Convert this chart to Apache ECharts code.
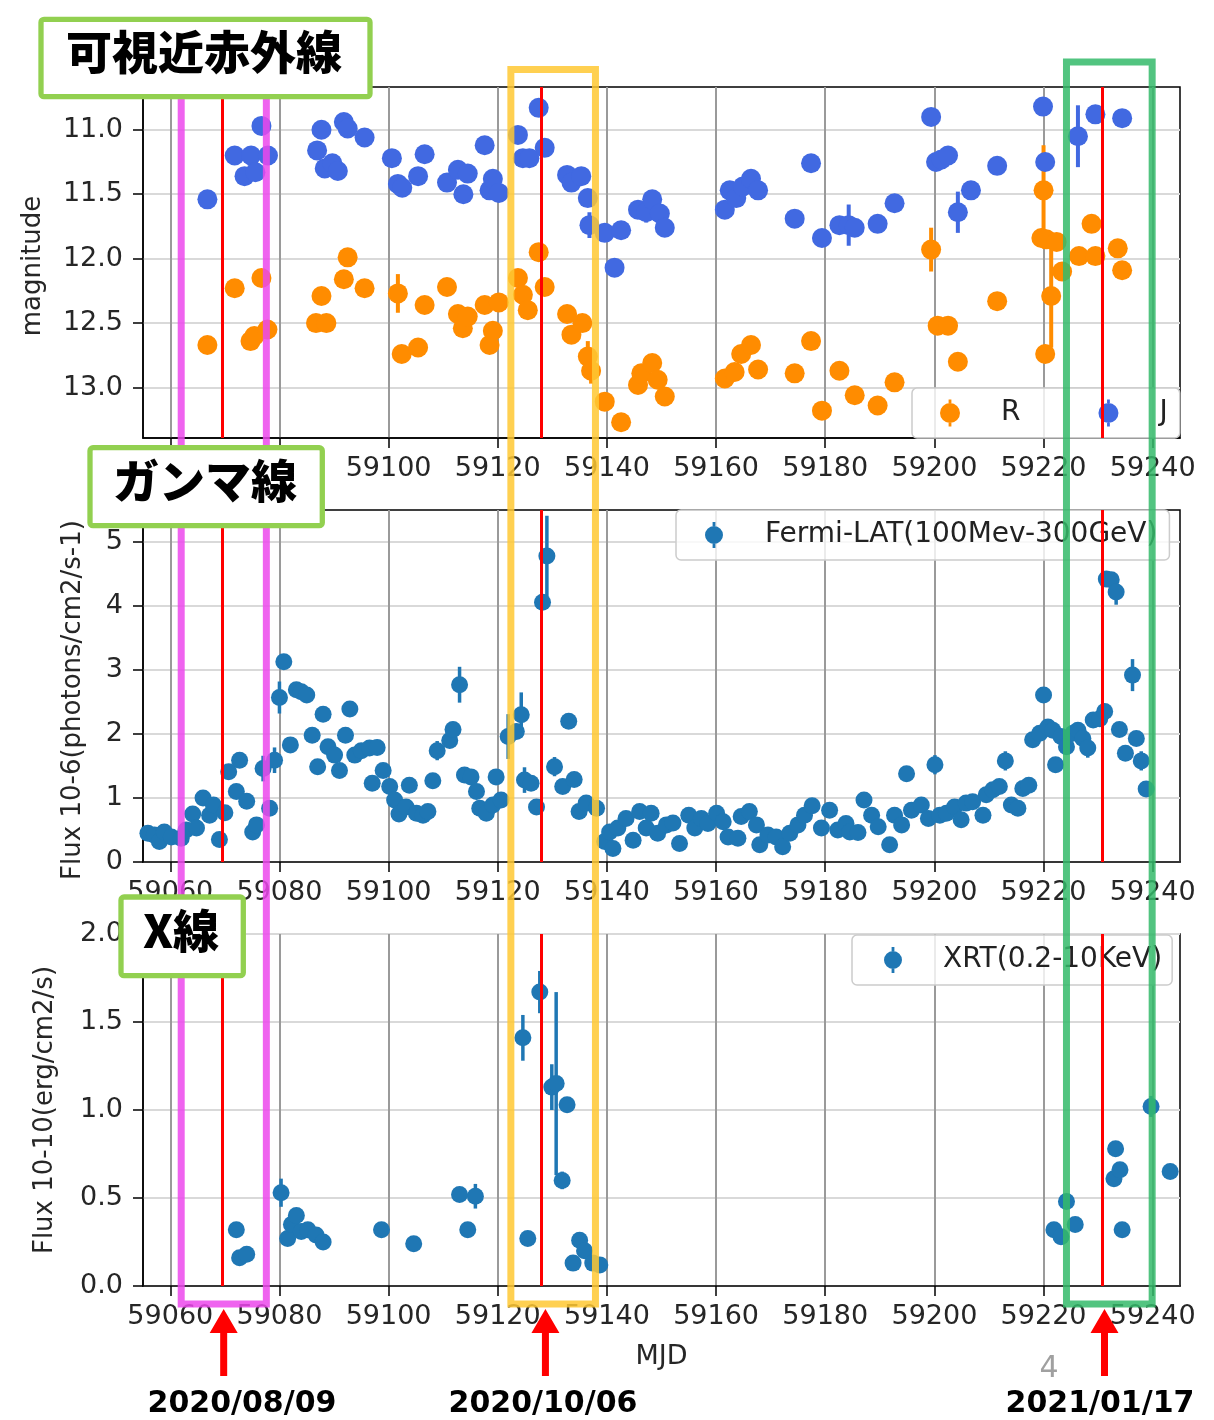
<!DOCTYPE html>
<html>
<head>
<meta charset="utf-8">
<script src="https://cdn.jsdelivr.net/npm/echarts@6/dist/echarts.min.js"></script>
<style>
html,body{margin:0;padding:0;background:#fff;}
#main{width:1214px;height:1420px;}
</style>
</head>
<body>
<div id="main"></div>
<script>
// ---- axis ticks ----
const mjdTicks = [59060, 59080, 59100, 59120, 59140, 59160, 59180, 59200, 59220, 59240];
const magTicks = [11.0, 11.5, 12.0, 12.5, 13.0];
const latTicks = [0, 1, 2, 3, 4, 5];
const xrtTicks = [0, 0.5, 1.0, 1.5, 2.0];

// ---- optical / NIR photometry (magnitude) ----
const rMjd = [59066.8,59071.8,59074.7,59075.4,59076.7,59077.8,59086.7,59087.7,59088.6,59091.8,
  59092.5,59095.6,59101.7,59102.4,59105.4,59106.6,59110.7,59112.7,59113.6,59114.5,
  59117.6,59118.5,59119.1,59120.2,59123.7,59124.6,59125.5,59127.5,59128.6,59132.7,
  59133.5,59135.5,59136.5,59137.1,59139.6,59142.6,59145.7,59146.3,59148.3,59149.3,
  59150.6,59161.6,59163.4,59164.6,59166.4,59167.7,59174.4,59177.4,59179.4,59182.6,
  59185.4,59189.6,59192.7,59199.4,59200.6,59202.5,59204.3,59211.5,59219.6,59220.0,
  59220.3,59220.5,59221.4,59222.4,59223.4,59226.5,59228.8,59229.5,59233.6,59234.4];
const rMag = [12.67,12.23,12.64,12.60,12.15,12.55,12.50,12.29,12.50,12.16,
  11.99,12.23,12.27,12.74,12.69,12.36,12.22,12.43,12.54,12.45,
  12.36,12.67,12.56,12.34,12.15,12.28,12.40,11.95,12.22,12.43,
  12.59,12.50,12.76,12.87,13.11,13.27,12.98,12.89,12.81,12.94,
  13.07,12.93,12.88,12.74,12.67,12.86,12.89,12.64,13.18,12.87,
  13.06,13.14,12.96,11.93,12.52,12.52,12.80,12.33,11.84,11.47,
  12.74,11.85,12.29,11.87,12.10,11.98,11.73,11.98,11.92,12.09];
const rErr = [0.03,0.03,0.03,0.03,0.03,0.03,0.03,0.03,0.03,0.03,
  0.06,0.03,0.15,0.03,0.03,0.03,0.03,0.03,0.03,0.03,
  0.03,0.03,0.03,0.03,0.03,0.03,0.03,0.03,0.03,0.03,
  0.03,0.03,0.12,0.10,0.03,0.03,0.03,0.03,0.03,0.03,
  0.03,0.03,0.03,0.03,0.03,0.03,0.03,0.03,0.03,0.03,
  0.03,0.03,0.03,0.17,0.03,0.03,0.03,0.07,0.03,0.35,
  0.03,0.03,0.40,0.03,0.03,0.03,0.03,0.03,0.03,0.03];

const jMjd = [59066.8,59071.8,59073.6,59074.8,59075.6,59076.7,59077.9,59086.9,59087.7,59088.3,
  59089.7,59090.7,59091.8,59092.5,59095.6,59100.6,59101.7,59102.5,59105.4,59106.6,
  59110.7,59112.7,59113.7,59114.5,59117.6,59118.5,59119.1,59120.2,59123.7,59124.6,
  59125.8,59127.5,59128.6,59132.7,59133.5,59135.3,59136.5,59136.8,59139.6,59141.4,
  59142.6,59145.7,59147.2,59148.3,59149.7,59150.6,59161.6,59162.5,59163.7,59164.9,
  59166.4,59167.7,59174.4,59177.4,59179.4,59182.6,59184.3,59185.4,59189.6,59192.7,
  59199.4,59200.3,59201.3,59202.5,59204.3,59206.7,59211.5,59219.9,59220.3,59226.3,
  59229.5,59234.4];
const jMag = [11.54,11.20,11.36,11.20,11.33,10.97,11.20,11.16,11.00,11.30,
  11.26,11.32,10.94,10.99,11.06,11.22,11.42,11.45,11.36,11.19,
  11.41,11.31,11.50,11.34,11.12,11.47,11.38,11.49,11.04,11.22,
  11.22,10.83,11.14,11.35,11.41,11.36,11.53,11.74,11.80,12.07,
  11.78,11.62,11.64,11.54,11.65,11.76,11.62,11.47,11.53,11.44,
  11.38,11.47,11.69,11.26,11.84,11.74,11.74,11.76,11.73,11.57,
  10.90,11.25,11.23,11.20,11.64,11.47,11.28,10.82,11.25,11.05,
  10.88,10.91];
const jErr = [0.03,0.03,0.03,0.03,0.03,0.03,0.03,0.03,0.03,0.03,
  0.03,0.03,0.03,0.03,0.03,0.03,0.03,0.03,0.03,0.03,
  0.03,0.03,0.03,0.03,0.03,0.03,0.03,0.03,0.03,0.03,
  0.03,0.03,0.03,0.03,0.03,0.03,0.03,0.10,0.03,0.03,
  0.03,0.03,0.08,0.03,0.03,0.03,0.03,0.03,0.03,0.03,
  0.03,0.03,0.03,0.03,0.03,0.03,0.16,0.03,0.03,0.03,
  0.03,0.03,0.03,0.03,0.16,0.06,0.03,0.03,0.06,0.24,
  0.03,0.03];

// ---- Fermi-LAT gamma-ray flux (1e-6 photons/cm2/s) ----
const latMjd = [59055.9,59057.1,59058.0,59058.9,59060.2,59062.0,59062.9,59064.1,59064.8,59066.0,
  59067.2,59067.9,59069.0,59070.0,59070.7,59072.1,59072.7,59074.0,59075.1,59075.8,
  59077.0,59078.2,59079.1,59080.0,59080.8,59082.0,59083.1,59084.0,59085.0,59086.0,
  59087.0,59088.0,59088.9,59090.1,59091.0,59092.1,59092.9,59093.8,59095.0,59096.5,
  59097.0,59097.9,59099.0,59100.2,59101.1,59101.9,59103.2,59103.8,59105.1,59106.3,
  59107.2,59108.1,59108.9,59111.2,59111.8,59113.0,59113.9,59115.1,59116.1,59116.7,
  59117.9,59119.1,59119.7,59120.6,59121.9,59123.4,59124.3,59124.9,59126.1,59127.1,
  59128.2,59129.0,59130.4,59131.9,59133.0,59134.0,59134.9,59136.2,59138.1,59139.6,
  59140.5,59141.1,59142.0,59143.5,59144.8,59146.0,59147.2,59148.1,59149.3,59150.9,
  59152.1,59153.3,59155.0,59156.1,59157.3,59158.5,59160.1,59161.3,59162.2,59164.0,
  59164.6,59166.1,59167.4,59168.0,59169.5,59171.0,59172.2,59173.5,59175.0,59176.2,
  59177.6,59179.3,59180.8,59182.3,59183.8,59184.5,59186.0,59187.1,59188.5,59189.7,
  59191.8,59192.7,59194.0,59194.9,59195.8,59197.6,59198.9,59200.1,59201.0,59202.2,
  59203.7,59204.9,59205.8,59207.0,59208.9,59209.5,59210.7,59211.9,59213.0,59214.1,
  59215.3,59216.2,59217.3,59218.0,59219.3,59220.0,59220.8,59221.7,59222.2,59223.2,
  59224.2,59225.4,59226.3,59227.2,59228.1,59229.1,59230.3,59231.2,59231.5,59232.4,
  59233.3,59233.9,59235.0,59236.3,59237.0,59237.9,59238.8];
const latFlux = [0.45,0.42,0.32,0.47,0.39,0.37,0.50,0.75,0.53,1.00,
  0.73,0.89,0.35,0.77,1.41,1.10,1.59,0.95,0.47,0.58,
  1.46,0.84,1.59,2.57,3.13,1.83,2.69,2.66,2.61,1.98,
  1.49,2.31,1.80,1.67,1.43,1.98,2.39,1.67,1.74,1.78,
  1.23,1.79,1.43,1.18,0.97,0.75,0.86,1.20,0.76,0.73,
  0.79,1.27,1.74,1.90,2.07,2.77,1.36,1.33,1.10,0.84,
  0.76,0.89,1.33,0.97,1.96,2.04,2.30,1.28,1.23,0.86,
  4.06,4.78,1.49,1.18,2.20,1.29,0.79,0.92,0.84,0.32,
  0.47,0.21,0.53,0.68,0.34,0.79,0.53,0.76,0.45,0.58,
  0.61,0.29,0.73,0.53,0.68,0.60,0.76,0.63,0.39,0.37,
  0.71,0.79,0.58,0.27,0.42,0.39,0.24,0.45,0.58,0.73,
  0.88,0.53,0.81,0.50,0.60,0.47,0.46,0.97,0.73,0.55,
  0.27,0.73,0.58,1.38,0.81,0.89,0.68,1.52,0.73,0.76,
  0.86,0.66,0.92,0.94,0.73,1.05,1.13,1.18,1.58,0.89,
  0.84,1.15,1.20,1.91,2.01,2.61,2.11,2.06,1.52,1.96,
  1.80,2.01,2.06,1.93,1.78,2.22,2.24,2.35,4.42,4.41,
  4.22,2.07,1.70,2.92,1.93,1.58,1.14];
const latErr = [0.05,0.05,0.05,0.05,0.05,0.05,0.05,0.05,0.05,0.05,
  0.05,0.05,0.05,0.05,0.05,0.05,0.05,0.05,0.05,0.05,
  0.20,0.05,0.20,0.25,0.05,0.05,0.10,0.05,0.05,0.05,
  0.05,0.05,0.05,0.05,0.05,0.05,0.05,0.05,0.05,0.05,
  0.05,0.05,0.10,0.05,0.05,0.05,0.05,0.10,0.05,0.05,
  0.05,0.12,0.15,0.05,0.12,0.28,0.05,0.05,0.05,0.05,
  0.05,0.05,0.05,0.10,0.35,0.05,0.35,0.20,0.05,0.10,
  0.05,0.63,0.15,0.05,0.05,0.05,0.05,0.12,0.05,0.05,
  0.05,0.05,0.05,0.05,0.05,0.05,0.05,0.05,0.05,0.05,
  0.05,0.05,0.05,0.05,0.05,0.05,0.05,0.05,0.05,0.10,
  0.05,0.05,0.05,0.05,0.05,0.05,0.05,0.05,0.05,0.05,
  0.05,0.05,0.05,0.05,0.05,0.10,0.05,0.05,0.05,0.05,
  0.05,0.05,0.05,0.05,0.05,0.05,0.05,0.15,0.05,0.05,
  0.05,0.05,0.05,0.05,0.05,0.05,0.05,0.05,0.15,0.05,
  0.05,0.05,0.05,0.05,0.05,0.05,0.05,0.10,0.05,0.05,
  0.05,0.05,0.05,0.05,0.15,0.05,0.05,0.05,0.12,0.05,
  0.20,0.05,0.05,0.25,0.05,0.15,0.05];

// ---- Swift-XRT X-ray flux (1e-10 erg/cm2/s) ----
const xrtMjd = [59072.1,59072.7,59074.0,59080.3,59081.5,59082.2,59083.1,59084.0,59085.2,59086.7,
  59088.0,59098.7,59104.6,59113.0,59114.5,59115.9,59124.6,59125.5,59127.7,59129.9,
  59130.7,59131.8,59132.7,59133.8,59135.0,59135.9,59137.4,59138.7,59221.9,59223.2,
  59224.2,59225.8,59232.9,59233.2,59234.0,59234.4,59239.7,59243.2];
const xrtFlux = [0.32,0.16,0.18,0.53,0.27,0.35,0.40,0.31,0.32,0.29,
  0.25,0.32,0.24,0.52,0.32,0.51,1.41,0.27,1.67,1.13,
  1.15,0.60,1.03,0.13,0.26,0.20,0.13,0.12,0.32,0.28,
  0.48,0.35,0.61,0.78,0.66,0.32,1.02,0.65];
const xrtErr = [0.02,0.02,0.02,0.08,0.02,0.02,0.02,0.02,0.02,0.02,
  0.02,0.02,0.02,0.03,0.04,0.07,0.13,0.02,0.12,0.13,
  0.52,0.05,0.02,0.02,0.02,0.02,0.02,0.02,0.02,0.02,
  0.02,0.02,0.02,0.04,0.02,0.02,0.06,0.02];

// ---- flare epochs and highlighted windows (MJD) ----
const flareMjd = [59069.6, 59128.0, 59230.8];
const flareDates = ['2020/08/09', '2020/10/06', '2021/01/17'];
const windowStart = [59062.0, 59122.4, 59224.2];
const windowEnd = [59077.6, 59137.9, 59239.9];
const windowColors = ['rgba(236,72,236,0.85)', 'rgba(255,200,50,0.85)', 'rgba(52,186,106,0.85)'];
const windowTops = [60, 69.5, 62];
const bandTitles = ['可視近赤外線', 'ガンマ線', 'X線'];

const FONT = 'DejaVu Sans';
const TXT = '#262626';
const zip3 = (a, b, c) => a.map((v, i) => [v, b[i], c[i]]);

function errRender(color, width) {
  return function (params, api) {
    const x = api.value(0), y = api.value(1), e = api.value(2);
    const p1 = api.coord([x, y - e]);
    const p2 = api.coord([x, y + e]);
    return {
      type: 'line',
      shape: {x1: p1[0], y1: p1[1], x2: p2[0], y2: p2[1]},
      style: {stroke: color, lineWidth: width}
    };
  };
}

function icon(d, h) {
  const bw = 2.8, bx = d / 2 - bw / 2, r = d / 2, arm = (h - d) / 2;
  return 'path://M' + bx + ',0h' + bw + 'v' + arm + 'h-' + bw + 'z' +
    'M0,' + (h / 2) + 'a' + r + ',' + r + ' 0 1,0 ' + d + ',0a' + r + ',' + r + ' 0 1,0 -' + d + ',0z' +
    'M' + bx + ',' + (h - arm) + 'h' + bw + 'v' + arm + 'h-' + bw + 'z';
}

const flareLines = {
  silent: true,
  symbol: ['none', 'none'],
  label: {show: false},
  lineStyle: {color: '#ff0000', width: 3, type: 'solid'},
  emphasis: {disabled: true},
  animation: false,
  data: flareMjd.map(v => ({xAxis: v}))
};

function xAxisFor(i) {
  return {
    type: 'value', gridIndex: i, min: 59055, max: 59245, splitNumber: 9,
    axisLine: {show: true, onZero: false, lineStyle: {color: '#000', width: 1.5}},
    axisTick: {show: true, inside: false, length: 10, customValues: mjdTicks,
      lineStyle: {color: '#000', width: 1.5}},
    axisLabel: {show: true, customValues: mjdTicks, margin: 17, color: TXT,
      fontSize: 27, fontFamily: FONT, formatter: v => String(v)},
    splitLine: {show: true, lineStyle: {color: '#9a9a9a', width: 2}},
    name: i === 2 ? 'MJD' : '', nameLocation: 'middle', nameGap: 57,
    nameTextStyle: {color: TXT, fontSize: 27, fontFamily: FONT}
  };
}

function yAxisFor(i, min, max, ticks, split, digits, inverse) {
  return {
    type: 'value', gridIndex: i, min: min, max: max, splitNumber: split, inverse: !!inverse,
    axisLine: {show: true, lineStyle: {color: '#000', width: 1.5}},
    axisTick: {show: true, inside: false, length: 10, customValues: ticks,
      lineStyle: {color: '#000', width: 1.5}},
    axisLabel: {show: true, customValues: ticks, margin: 20, color: TXT,
      fontSize: 27, fontFamily: FONT, formatter: v => v.toFixed(digits)},
    splitLine: {show: true, lineStyle: {color: '#d9d9d9', width: 2}}
  };
}

function legendFor(left, top, names, icons, pad, textPad) {
  return {
    show: true, selectedMode: false, orient: 'horizontal',
    left: left, top: top, padding: pad, itemGap: 78,
    itemWidth: icons[0].w, itemHeight: icons[0].h,
    backgroundColor: 'rgba(255,255,255,0.8)', borderColor: '#cccccc',
    borderWidth: 1.5, borderRadius: 5,
    textStyle: {color: '#222', fontSize: 28, fontFamily: FONT, padding: [0, 0, 0, textPad]},
    data: names.map((n, k) => ({name: n, icon: icon(icons[k].w, icons[k].h)}))
  };
}

const option = {
  animation: false,
  backgroundColor: '#ffffff',
  grid: [
    {left: 143, top: 87, right: 34, height: 351, show: true, borderColor: '#000', borderWidth: 1.5, backgroundColor: 'transparent'},
    {left: 143, top: 510, right: 34, height: 352, show: true, borderColor: '#000', borderWidth: 1.5, backgroundColor: 'transparent'},
    {left: 143, top: 934, right: 34, height: 352, show: true, borderColor: '#000', borderWidth: 1.5, backgroundColor: 'transparent'}
  ],
  xAxis: [xAxisFor(0), xAxisFor(1), xAxisFor(2)],
  yAxis: [
    yAxisFor(0, 10.668, 13.392, magTicks, 5, 1, true),
    yAxisFor(1, 0, 5.5, latTicks, 5, 0, false),
    yAxisFor(2, 0, 2.0, xrtTicks, 4, 1, false)
  ],
  legend: [
    legendFor(912, 388, ['R', 'J'], [{w: 20, h: 27}, {w: 20, h: 27}], [11, 12, 11, 28], 36),
    legendFor(676, 510, ['Fermi-LAT(100Mev-300GeV)'], [{w: 18, h: 26}], [11, 12, 11, 29], 37),
    legendFor(852, 935, ['XRT(0.2-10KeV)'], [{w: 18, h: 26}], [11, 10, 11, 32], 36)
  ],
  series: [
    {type: 'custom', name: 'R error', xAxisIndex: 0, yAxisIndex: 0, clip: true, silent: true,
      renderItem: errRender('#ff8c00', 4), data: zip3(rMjd, rMag, rErr), z: 2},
    {type: 'custom', name: 'J error', xAxisIndex: 0, yAxisIndex: 0, clip: true, silent: true,
      renderItem: errRender('#4169e1', 4), data: zip3(jMjd, jMag, jErr), z: 2},
    {type: 'scatter', name: 'R', xAxisIndex: 0, yAxisIndex: 0, symbol: 'circle', symbolSize: 20,
      itemStyle: {color: '#ff8c00', opacity: 1}, data: rMjd.map((v, i) => [v, rMag[i]]), z: 3},
    {type: 'scatter', name: 'J', xAxisIndex: 0, yAxisIndex: 0, symbol: 'circle', symbolSize: 20,
      itemStyle: {color: '#4169e1', opacity: 1}, data: jMjd.map((v, i) => [v, jMag[i]]), z: 3,
      markLine: flareLines},

    {type: 'custom', name: 'LAT error', xAxisIndex: 1, yAxisIndex: 1, clip: true, silent: true,
      renderItem: errRender('#1f77b4', 3.5), data: zip3(latMjd, latFlux, latErr), z: 2},
    {type: 'scatter', name: 'Fermi-LAT(100Mev-300GeV)', xAxisIndex: 1, yAxisIndex: 1, symbol: 'circle', symbolSize: 17,
      itemStyle: {color: '#1f77b4', opacity: 1}, data: latMjd.map((v, i) => [v, latFlux[i]]), z: 3,
      markLine: flareLines},

    {type: 'custom', name: 'XRT error', xAxisIndex: 2, yAxisIndex: 2, clip: true, silent: true,
      renderItem: errRender('#1f77b4', 3.5), data: zip3(xrtMjd, xrtFlux, xrtErr), z: 2},
    {type: 'scatter', name: 'XRT(0.2-10KeV)', xAxisIndex: 2, yAxisIndex: 2, symbol: 'circle', symbolSize: 17,
      itemStyle: {color: '#1f77b4', opacity: 1}, data: xrtMjd.map((v, i) => [v, xrtFlux[i]]), z: 3,
      markLine: flareLines}
  ]
};

const chart = echarts.init(document.getElementById('main'));
chart.setOption(option);

// ---- overlay: axis titles, band titles, highlight windows, flare arrows ----
const px = v => chart.convertToPixel({xAxisIndex: 0}, v);
const overlay = [];

const axisTitles = [
  {text: 'magnitude', x: 33, y: 266},
  {text: 'Flux 10-6(photons/cm2/s-1)', x: 73, y: 700},
  {text: 'Flux 10-10(erg/cm2/s)', x: 45, y: 1110}
];
axisTitles.forEach(t => overlay.push({
  type: 'text', x: t.x, y: t.y, rotation: Math.PI / 2, z: 50,
  style: {text: t.text, fill: TXT, font: '26px "DejaVu Sans"', align: 'center', verticalAlign: 'middle'}
}));

windowStart.forEach((s, k) => {
  const x1 = px(s), x2 = px(windowEnd[k]);
  overlay.push({
    type: 'rect', z: 100,
    shape: {x: x1, y: windowTops[k], width: x2 - x1, height: 1304 - windowTops[k]},
    style: {fill: 'none', stroke: windowColors[k], lineWidth: 7}
  });
});

const titleBoxes = [
  {x: 41, y: 19.3, w: 329, h: 77.4, cx: 204, cy: 52},
  {x: 90, y: 447.7, w: 232.3, h: 78, cx: 205, cy: 481},
  {x: 121, y: 897, w: 122.3, h: 78.7, cx: 181, cy: 931}
];
titleBoxes.forEach((b, k) => {
  overlay.push({
    type: 'rect', z: 110,
    shape: {x: b.x, y: b.y, width: b.w, height: b.h, r: 3},
    style: {fill: '#ffffff', stroke: '#92d050', lineWidth: 5.3}
  });
  overlay.push({
    type: 'text', z: 111, x: b.cx, y: b.cy,
    style: {text: bandTitles[k], fill: '#000', font: '900 46px "Noto Sans CJK JP"',
      align: 'center', verticalAlign: 'middle'}
  });
});

const arrowShift = [1, 4, 2];
flareMjd.forEach((m, k) => {
  const x = px(m) + arrowShift[k];
  overlay.push({
    type: 'polygon', z: 110,
    shape: {points: [[x, 1309], [x + 14, 1333], [x + 3.5, 1333], [x + 3.5, 1376],
      [x - 3.5, 1376], [x - 3.5, 1333], [x - 14, 1333]]},
    style: {fill: '#ff0000'}
  });
});
const dateCenters = [242, 543, 1100];
flareDates.forEach((d, k) => overlay.push({
  type: 'text', z: 110, x: dateCenters[k], y: 1404,
  style: {text: d, fill: '#000', font: 'bold 30px "DejaVu Sans"', align: 'center', verticalAlign: 'middle'}
}));

overlay.push({
  type: 'text', z: 110, x: 1049, y: 1369,
  style: {text: '4', fill: '#a0a0a0', font: '30px "DejaVu Sans"', align: 'center', verticalAlign: 'middle'}
});

chart.setOption({graphic: {elements: overlay}});
</script>
</body>
</html>
